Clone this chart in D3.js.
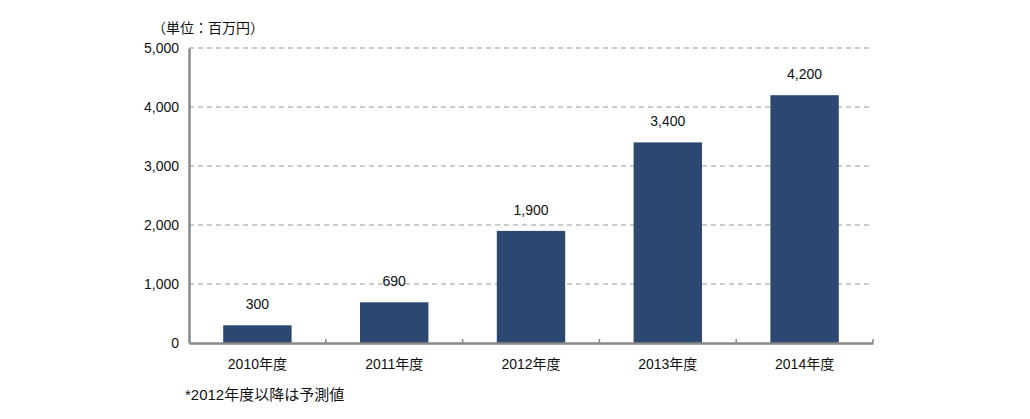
<!DOCTYPE html><html><head><meta charset="utf-8"><script src="https://cdn.jsdelivr.net/npm/d3@7"></script>
<style>body{margin:0;background:#fff}text{font-family:Arial,"Liberation Sans","Noto Sans CJK JP",sans-serif;fill:#111}</style></head><body>
<svg id="c" width="1030" height="419"></svg>
<script>
const categories=["2010年度","2011年度","2012年度","2013年度","2014年度"];
const values=[300,690,1900,3400,4200];
const labels=["300","690","1,900","3,400","4,200"];
const yTicks=[0,1000,2000,3000,4000,5000];
const svg=d3.select("#c");
const L=189,R=873,T=48,B=343;
const x=d3.scaleBand().domain(categories).range([L,R]).padding(0.5).paddingOuter(0.25);
const y=d3.scaleLinear().domain([0,5000]).range([B,T]);
svg.append("g").selectAll("line").data(yTicks.filter(d=>d>0)).join("line")
 .attr("x1",L).attr("x2",R).attr("y1",d=>y(d)).attr("y2",d=>y(d))
 .attr("stroke","#999").attr("stroke-dasharray","5,4").attr("stroke-width",1.2);
svg.append("g").selectAll("rect").data(values).join("rect")
 .attr("x",(d,i)=>x(categories[i])).attr("width",x.bandwidth())
 .attr("y",d=>y(d)).attr("height",d=>B-y(d)).attr("fill","#2c4770");
svg.append("g").selectAll("text").data(values).join("text")
 .attr("x",(d,i)=>x(categories[i])+x.bandwidth()/2).attr("y",d=>y(d)-16)
 .attr("text-anchor","middle").attr("font-size",14).text((d,i)=>labels[i]);
const ya=svg.append("g").attr("transform",`translate(${L},0)`).call(d3.axisLeft(y).tickValues(yTicks).tickSize(0).tickPadding(10).tickFormat(d3.format(",")));
ya.select(".domain").attr("stroke","#888").attr("stroke-width",2.5);
ya.selectAll("text").attr("font-size",14).attr("font-family","Arial,'Liberation Sans',sans-serif").attr("fill","#111");
const step=(R-L)/categories.length;
const xa=svg.append("g").attr("transform",`translate(0,${B})`).call(d3.axisBottom(x).tickSize(0).tickPadding(16));
xa.select(".domain").attr("stroke","#888").attr("stroke-width",2.5);
xa.selectAll("text").attr("font-size",14).attr("fill","#111");
svg.append("g").selectAll("line").data(d3.range(1,categories.length+1)).join("line")
 .attr("x1",d=>L+d*step).attr("x2",d=>L+d*step).attr("y1",B).attr("y2",B-4).attr("stroke","#888").attr("stroke-width",1.5);
svg.append("text").attr("x",152).attr("y",33).attr("font-size",14).text("（単位：百万円）");
svg.append("text").attr("x",185).attr("y",400).attr("font-size",15).text("*2012年度以降は予測値");
</script></body></html>
